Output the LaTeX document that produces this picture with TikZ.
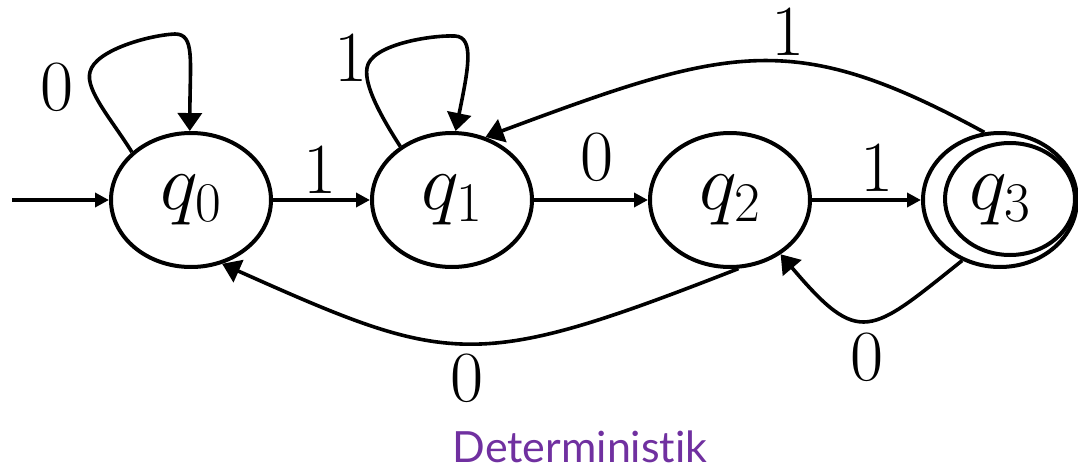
\documentclass[tikz,border=0pt]{standalone}
\usepackage{fix-cm}
\usepackage{fontspec}
\usetikzlibrary{shapes.geometric,arrows.meta}
\newfontfamily\capfont[Ligatures={NoCommon}]{Lato}
\DeclareMathSizes{40}{40}{28}{20}
\definecolor{capcolor}{HTML}{7030A0}
\tikzset{
  state/.style={draw, ellipse, line width=2pt, minimum width=80pt, minimum height=67pt,
    inner sep=0pt, font=\fontsize{40}{44}\selectfont},
  edge/.style={line width=1.8pt, -{Triangle[length=7pt,width=7pt]}},
  cedge/.style={line width=1.8pt, -{Triangle[length=9pt,width=12pt]}},
  lbl/.style={font=\fontsize{36}{40}\selectfont, inner sep=0pt},
  elbl/.style={lbl, anchor=south},
  caption/.style={font=\capfont\fontsize{21.5}{24}\selectfont, text=capcolor, inner sep=0pt}
}
\begin{document}
\begin{tikzpicture}[x=0.5pt,y=-0.5pt]
\useasboundingbox (0,0) rectangle (1078,471);
\node[state] (q0) at (191,200) {$q_0$};
\node[state] (q1) at (452,200) {$q_1$};
\node[state] (q2) at (730,200) {$q_2$};
\node[state, minimum width=77pt] (q3) at (1000,200) {$q_3$};
\node[draw, ellipse, line width=2pt, minimum width=65pt, minimum height=56pt, inner sep=0pt] (q3in) at (1010,199) {};
\coordinate (start) at (12,200);
\draw[edge] (start) -- (q0);
\draw[edge] (q0) -- node[elbl, pos=0.485, yshift=2.5pt] (l01) {1} (q1);
\draw[edge] (q1) -- node[elbl, pos=0.55, yshift=8.5pt] (l12) {0} (q2);
\draw[edge] (q2) -- node[elbl, pos=0.6, yshift=3.5pt] (l23) {1} (q3);
\draw[cedge] (q0.141) .. controls (112,120) and (85,90) .. (90,72)
  .. controls (95,50) and (150,35) .. (175,34)
  .. controls (195,34) and (190,60) .. (q0.91);
\node[lbl] (l00) at (57,87) {0};
\draw[cedge] (q1.134) .. controls (380,115) and (364,85) .. (367,68)
  .. controls (370,45) and (430,35) .. (455,36)
  .. controls (475,37) and (468,70) .. (q1.87);
\node[lbl] (l11) at (351,58) {1};
\draw[cedge] (q3.103) .. controls (793,28) and (730,46) .. (q1.62);
\node[lbl] (l31) at (788,32) {1};
\draw[cedge] (q2.-83) .. controls (474,372) and (451,366) .. (q0.-64);
\node[lbl] (l20) at (467,378) {0};
\draw[cedge] (q3.238) .. controls (870,334) and (860,348) .. (q2.-47);
\node[lbl] (l32) at (867,357) {0};
\node[caption] (cap) at (580,447) {Deterministik};
\end{tikzpicture}
\end{document}
